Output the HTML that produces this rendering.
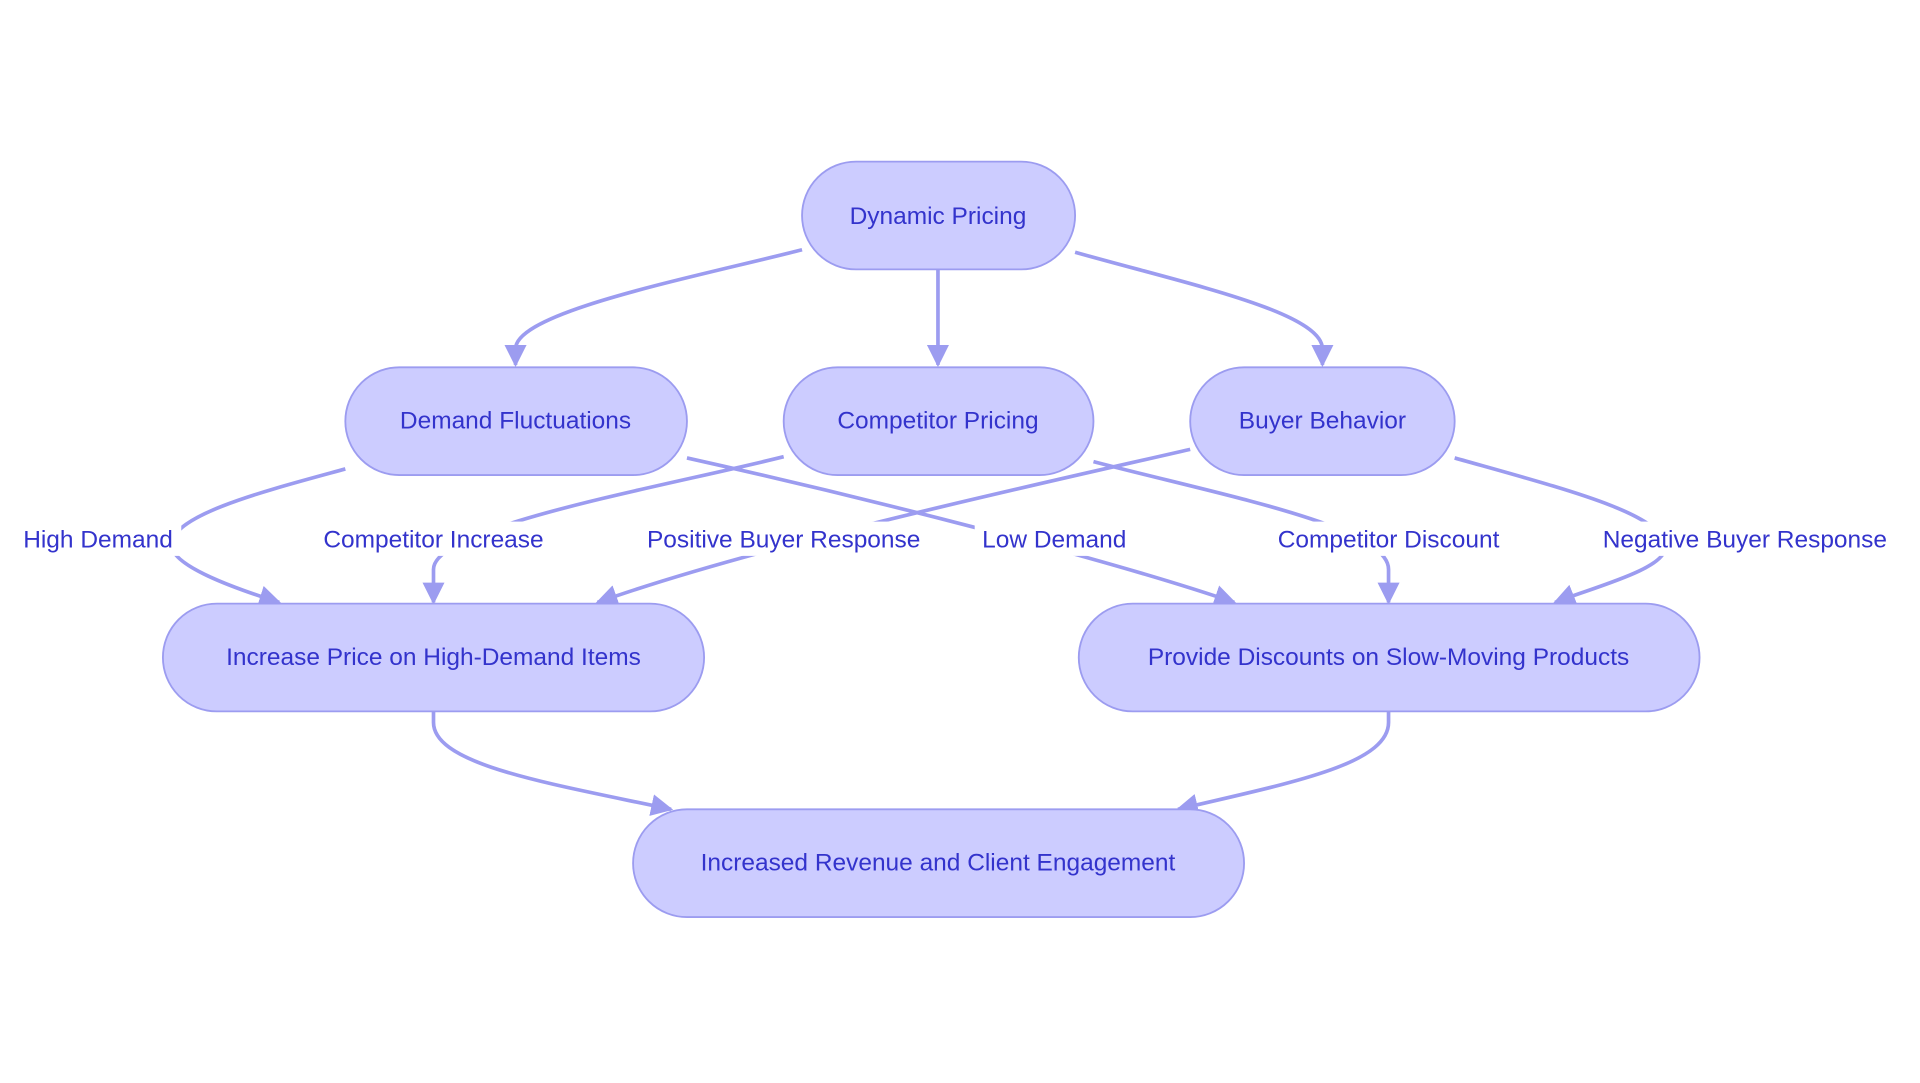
<!DOCTYPE html>
<html><head><meta charset="utf-8"><style>
html,body{margin:0;padding:0;background:#fff;}
svg{display:block;}
text{font-family:"Liberation Sans",sans-serif;fill:#3333cc;font-size:20px;}
.n{fill:#ccccff;stroke:#9c9cf0;stroke-width:1.5;}
.e{fill:none;stroke:#9c9cf0;stroke-width:3;}
.lb{fill:#fff;}
</style></head><body>
<svg width="1920" height="1083" viewBox="0 0 1568 884.5" xmlns="http://www.w3.org/2000/svg">
<defs><marker id="a" viewBox="0 0 10 10" refX="9" refY="5" markerWidth="6" markerHeight="6" markerUnits="strokeWidth" orient="auto"><path d="M0,0 L10,5 L0,10 z" fill="#9c9cf0"/></marker></defs>
<g marker-end="url(#a)">
<path class="e" d="M655,204 C560,228 421,255 421,285 L421,298"/>
<path class="e" d="M766,220 L766,298"/>
<path class="e" d="M878,206 C970,232 1080,255 1080,285 L1080,298"/>
<path class="e" d="M282,383 C220,400 140,420 140,445 C140,462 190,480 228,492"/>
<path class="e" d="M640,373 C540,398 354,430 354,465 L354,492"/>
<path class="e" d="M972,367 C850,395 620,445 488,492"/>
<path class="e" d="M561,374 C700,405 900,455 1008,492"/>
<path class="e" d="M893,377 C1000,405 1134,430 1134,465 L1134,492"/>
<path class="e" d="M1188,374 C1280,400 1360,420 1360,447 C1360,465 1300,480 1270,492"/>
<path class="e" d="M354,581 L354,590 C354,625 450,640 548,661"/>
<path class="e" d="M1134,581 L1134,590 C1134,625 1050,640 962,661"/>
</g>
<g text-anchor="middle">
<rect class="lb" x="12" y="426" width="136" height="28"/><text x="80" y="447">High Demand</text>
<rect class="lb" x="249" y="426" width="210" height="28"/><text x="354" y="447">Competitor Increase</text>
<rect class="lb" x="517" y="426" width="247" height="28"/><text x="640" y="447">Positive Buyer Response</text>
<rect class="lb" x="796" y="426" width="130" height="28"/><text x="861" y="447">Low Demand</text>
<rect class="lb" x="1028" y="426" width="212" height="28"/><text x="1134" y="447">Competitor Discount</text>
<rect class="lb" x="1296" y="426" width="259" height="28"/><text x="1425" y="447">Negative Buyer Response</text>

<rect class="n" x="655" y="132" width="223" height="88" rx="44"/><text x="766" y="183">Dynamic Pricing</text>
<rect class="n" x="282" y="300" width="279" height="88" rx="44"/><text x="421" y="350">Demand Fluctuations</text>
<rect class="n" x="640" y="300" width="253" height="88" rx="44"/><text x="766" y="350">Competitor Pricing</text>
<rect class="n" x="972" y="300" width="216" height="88" rx="44"/><text x="1080" y="350">Buyer Behavior</text>
<rect class="n" x="133" y="493" width="442" height="88" rx="44"/><text x="354" y="543">Increase Price on High-Demand Items</text>
<rect class="n" x="881" y="493" width="507" height="88" rx="44"/><text x="1134" y="543">Provide Discounts on Slow-Moving Products</text>
<rect class="n" x="517" y="661" width="499" height="88" rx="44"/><text x="766" y="711">Increased Revenue and Client Engagement</text>
</g>
</svg>
</body></html>
